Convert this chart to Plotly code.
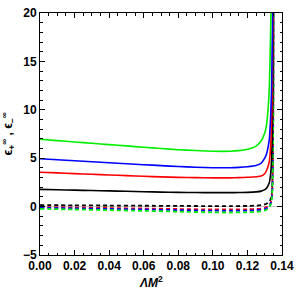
import plotly.graph_objects as go

# x grid (Lambda M^2)
x_solid = [0.0, 0.01, 0.02, 0.03, 0.04, 0.05, 0.06, 0.07, 0.08, 0.09, 0.10, 0.11, 0.115, 0.12,
           0.125, 0.128, 0.130, 0.131, 0.132, 0.1327, 0.133, 0.1335, 0.134, 0.1343, 0.1346, 0.1349]

green_solid = [6.96, 6.82, 6.68, 6.54, 6.40, 6.27, 6.13, 6.00, 5.88, 5.79, 5.72, 5.72, 5.78, 5.92,
               6.25, 6.8, 7.6, 8.4, 10.2, 12.5, 14.5, 19.0, 24.0, 26.0, 28.0, 30.0]
blue_solid = [4.95, 4.84, 4.74, 4.63, 4.53, 4.43, 4.33, 4.23, 4.14, 4.07, 4.02, 4.02, 4.05, 4.12,
              4.25, 4.5, 5.0, 5.4, 6.2, 7.0, 7.8, 9.5, 12.5, 16.0, 21.0, 26.0]
red_solid = [3.55, 3.48, 3.41, 3.34, 3.27, 3.20, 3.13, 3.07, 3.02, 2.99, 2.97, 2.97, 2.99, 3.03,
             3.08, 3.15, 3.4, 3.7, 4.2, 4.7, 5.2, 6.5, 9.0, 12.0, 17.0, 22.0]
black_solid = [1.78, 1.74, 1.70, 1.66, 1.62, 1.58, 1.54, 1.50, 1.47, 1.45, 1.44, 1.44, 1.45, 1.47,
               1.52, 1.6, 1.75, 1.9, 2.2, 2.5, 2.8, 3.5, 5.0, 7.0, 11.0, 21.0]

x_dash = [0.0, 0.02, 0.04, 0.06, 0.08, 0.10, 0.11, 0.12, 0.125, 0.128, 0.130, 0.131, 0.132,
          0.133, 0.1335, 0.134, 0.1343, 0.1346, 0.1349, 0.1351]
black_dash = [0.15, 0.13, 0.11, 0.09, 0.07, 0.05, 0.05, 0.07, 0.1, 0.15, 0.22, 0.3, 0.4,
              0.6, 0.8, 1.2, 2.0, 4.0, 10.0, 22.0]
red_dash = [-0.05, -0.10, -0.15, -0.20, -0.25, -0.30, -0.30, -0.28, -0.25, -0.2, -0.12, -0.05, 0.05,
            0.25, 0.45, 0.9, 1.6, 3.5, 9.0, 22.0]
blue_dash = [-0.12, -0.18, -0.24, -0.30, -0.36, -0.42, -0.43, -0.41, -0.38, -0.32, -0.25, -0.18, -0.08,
             0.15, 0.35, 0.8, 1.5, 3.2, 8.5, 22.0]
green_dash = [-0.23, -0.30, -0.37, -0.44, -0.52, -0.60, -0.61, -0.59, -0.55, -0.48, -0.40, -0.32, -0.2,
              0.05, 0.25, 0.7, 1.4, 3.0, 8.0, 22.0]

x_ticks = [0.0, 0.02, 0.04, 0.06, 0.08, 0.10, 0.12, 0.14]
x_tick_labels = ["0.00", "0.02", "0.04", "0.06", "0.08", "0.10", "0.12", "0.14"]
y_ticks = [-5, 0, 5, 10, 15, 20]
y_tick_labels = ["−5", "0", "5", "10", "15", "20"]

fig = go.Figure()

for ys, col in [(black_dash, "black"), (red_dash, "#ff0000"), (blue_dash, "#0000ff"), (green_dash, "#00ee00")]:
    fig.add_trace(go.Scatter(x=x_dash, y=ys, mode="lines",
                             line=dict(color=col, width=1.8, dash="4px,3px", shape="spline", smoothing=0.6),
                             showlegend=False))

for ys, col in [(black_solid, "black"), (red_solid, "#ff0000"), (blue_solid, "#0000ff"), (green_solid, "#00ee00")]:
    fig.add_trace(go.Scatter(x=x_solid, y=ys, mode="lines",
                             line=dict(color=col, width=1.6, shape="spline", smoothing=0.6),
                             showlegend=False))

FONT = "Liberation Sans, Arial, sans-serif"
axis_font = dict(family=FONT, size=12, color="black")

fig.update_layout(
    width=300, height=292,
    margin=dict(l=40, r=12, t=6, b=37),
    paper_bgcolor="white", plot_bgcolor="white",
    font=axis_font,
    xaxis=dict(
        range=[-0.000001, 0.140001], tickvals=x_ticks,
        ticktext=["<b>%s</b>" % t for t in x_tick_labels],
        ticks="inside", ticklen=5, tickwidth=1, tickcolor="black",
        showline=True, linecolor="black", linewidth=1, mirror="ticks",
        showgrid=False, zeroline=False, ticklabeloverflow="allow",
        minor=dict(dtick=0.005, ticks="inside", ticklen=2.5, tickcolor="black", showgrid=False),
        tickfont=axis_font,
    ),
    yaxis=dict(
        range=[-5.001, 20.001], tickvals=y_ticks,
        ticktext=["<b>%s</b>" % t for t in y_tick_labels],
        ticks="inside", ticklen=5, tickwidth=1, tickcolor="black",
        showline=True, linecolor="black", linewidth=1, mirror="ticks",
        showgrid=False, zeroline=True, zerolinecolor="#c8c8c8", zerolinewidth=1,
        ticklabeloverflow="allow",
        minor=dict(dtick=1, ticks="inside", ticklen=2.5, tickcolor="black", showgrid=False),
        tickfont=axis_font,
    ),
    annotations=[
        dict(text="<b><i>ΛM</i><sup>2</sup></b>", xref="paper", yref="paper",
             x=0.46, y=-0.07, xanchor="center", yanchor="top", showarrow=False,
             font=dict(family=FONT, size=12, color="black")),
        dict(text="<b>ϵ<sub>+</sub><sup>∞</sup> , ϵ<sub>−</sub><sup>∞</sup></b>", xref="paper", yref="paper",
             x=-0.085, y=0.5, xanchor="right", yanchor="middle", showarrow=False, textangle=-90,
             font=dict(family=FONT, size=12, color="black")),
    ],
)

fig.write_html(
    "out.html",
    config={"displayModeBar": False},
    post_script="document.body.style.margin='0';document.body.style.overflow='hidden';",
)
